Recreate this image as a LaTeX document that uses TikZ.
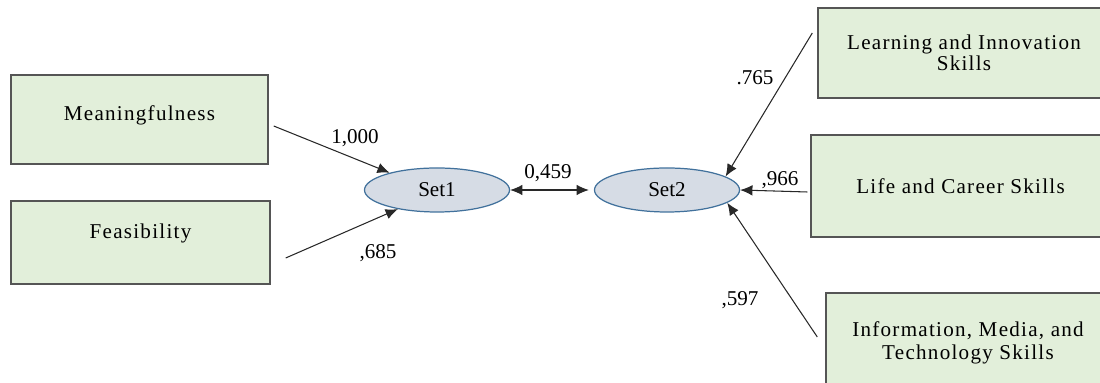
\documentclass[tikz,border=0pt]{standalone}
\usepackage{fontspec}
\setmainfont{Liberation Serif}
\newfontfamily\boxfont[LetterSpace=6]{Liberation Serif}
\usetikzlibrary{shapes.geometric, arrows.meta}

\definecolor{boxgreen}{RGB}{226,239,218}
\definecolor{boxline}{RGB}{85,85,85}
\definecolor{setfill}{RGB}{214,220,229}
\definecolor{setline}{RGB}{65,113,156}
\definecolor{arrowgray}{RGB}{40,40,40}

\begin{document}
\begin{tikzpicture}[
    box/.style = {draw=boxline, line width=0.8pt, fill=boxgreen, align=center, inner sep=0pt,
                  font=\boxfont\fontsize{12}{13}\selectfont},
    latent/.style = {ellipse, draw=setline, line width=0.7pt, fill=setfill, inner sep=0pt,
                  minimum width=2.9cm, minimum height=0.88cm, font=\fontsize{12}{14}\selectfont},
    lbl/.style = {inner sep=0pt, font=\fontsize{12}{14}\selectfont},
    link/.style = {draw=arrowgray, line width=0.6pt, -{Latex[length=7pt,width=6pt]}}]
    \clip (0,0) rectangle (22,7.66);

    % observed variables, set 1
    \node[box, minimum width=5.14cm, minimum height=1.78cm, text depth=0.25cm] (mean) at (2.79,5.27) {Meaningfulness};
    \node[box, minimum width=5.18cm, minimum height=1.66cm, text depth=0.45cm] (feas) at (2.81,2.81) {Feasibility};

    % latent sets
    \node[latent] (set1) at (8.74,3.86) {Set1};
    \node[latent] (set2) at (13.34,3.86) {Set2};

    % observed variables, set 2
    \node[box, minimum width=5.84cm, minimum height=1.8cm, font=\boxfont\fontsize{12}{10.5}\selectfont] (learn) at (19.28,6.6) {Learning and Innovation\\Skills};
    \node[box, minimum width=5.98cm, minimum height=2.04cm] (life) at (19.21,3.94) {Life and Career Skills};
    \node[box, minimum width=5.68cm, minimum height=2.0cm] (info) at (19.36,0.8) {Information, Media, and\\Technology Skills};

    % loadings
    \draw[link] ([xshift=0.1cm,yshift=-0.13cm]mean.east) -- (set1.160);
    \draw[link] ([xshift=0.3cm,yshift=-0.31cm]feas.east) -- (set1.206);
    \draw[link, {Latex[length=7pt,width=6pt]}-{Latex[length=7pt,width=6pt]}] (set1.east) -- ([xshift=-0.1cm]set2.west);
    \draw[link] ([xshift=-0.1cm,yshift=0.4cm]learn.west) -- (set2.13);
    \draw[link] ([xshift=-0.06cm,yshift=-0.12cm]life.west) -- (set2.east);
    \draw[link] ([xshift=-0.16cm,yshift=0.12cm]info.west) -- (set2.-12);

    \node[lbl] (l1) at (7.1,4.9) {1,000};
    \node[lbl] (l2) at (7.56,2.6) {,685};
    \node[lbl] (l3) at (10.96,4.2) {0,459};
    \node[lbl] (l4) at (15.1,6.1) {.765};
    \node[lbl] (l5) at (15.6,4.06) {,966};
    \node[lbl] (l6) at (14.8,1.66) {,597};
\end{tikzpicture}
\end{document}
